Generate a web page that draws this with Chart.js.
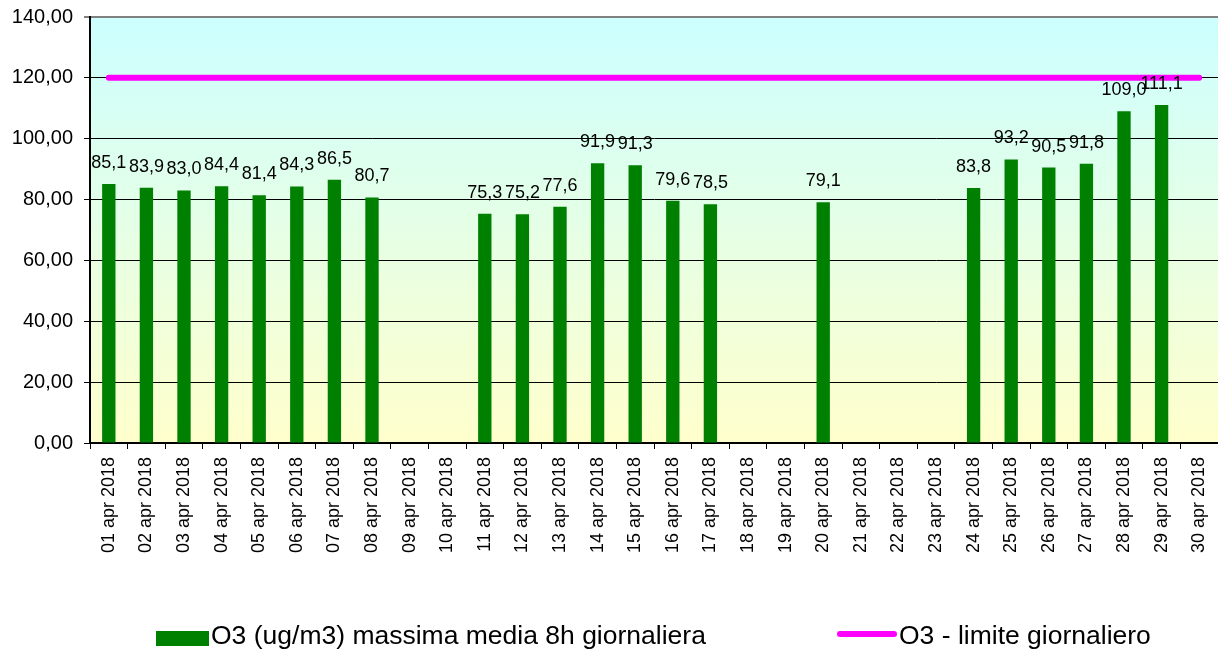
<!DOCTYPE html>
<html>
<head>
<meta charset="utf-8">
<script src="https://cdn.jsdelivr.net/npm/chart.js@4/dist/chart.umd.min.js"></script>
<style>
  html, body { margin: 0; padding: 0; background: #fff; }
  #wrap { width: 1218px; height: 652px; }
</style>
</head>
<body>
<div id="wrap"><canvas id="chart" width="1218" height="652"></canvas></div>
<script>
// Dati
const days = ['01 apr 2018', '02 apr 2018', '03 apr 2018', '04 apr 2018', '05 apr 2018',
    '06 apr 2018', '07 apr 2018', '08 apr 2018', '09 apr 2018', '10 apr 2018',
    '11 apr 2018', '12 apr 2018', '13 apr 2018', '14 apr 2018', '15 apr 2018',
    '16 apr 2018', '17 apr 2018', '18 apr 2018', '19 apr 2018', '20 apr 2018',
    '21 apr 2018', '22 apr 2018', '23 apr 2018', '24 apr 2018', '25 apr 2018',
    '26 apr 2018', '27 apr 2018', '28 apr 2018', '29 apr 2018', '30 apr 2018'];
const o3Max8h = [85.1, 83.9, 83.0, 84.4, 81.4, 84.3, 86.5, 80.7, null, null,
    75.3, 75.2, 77.6, 91.9, 91.3, 79.6, 78.5, null, null, 79.1,
    null, null, null, 83.8, 93.2, 90.5, 91.8, 109.0, 111.1, null];
const o3Limit = days.map(() => 120);
const yTicks = [0, 20, 40, 60, 80, 100, 120, 140];

const fmt = (v, d) => v.toFixed(d).replace('.', ',');

// Sfondo sfumato dell'area del grafico
const bgPlugin = {
    id: 'bgGradient',
    beforeDraw(chart) {
        const { ctx, chartArea: a } = chart;
        const g = ctx.createLinearGradient(0, a.top, 0, a.bottom);
        g.addColorStop(0, '#CCFFFF');
        g.addColorStop(1, '#FFFFCC');
        ctx.save();
        ctx.fillStyle = g;
        ctx.fillRect(a.left, a.top, a.right - a.left, a.bottom - a.top);
        ctx.restore();
    }
};

// Etichette dei valori sopra le barre
const valueLabels = {
    id: 'valueLabels',
    afterDatasetsDraw(chart) {
        const ctx = chart.ctx;
        const meta = chart.getDatasetMeta(1);
        ctx.save();
        ctx.font = '18px Arial, "Liberation Sans", sans-serif';
        ctx.fillStyle = '#000';
        ctx.textAlign = 'center';
        ctx.textBaseline = 'alphabetic';
        meta.data.forEach((bar, i) => {
            const v = o3Max8h[i];
            if (v == null) return;
            ctx.fillText(fmt(v, 1), bar.x, bar.y - 16);
        });
        ctx.restore();
    }
};

// Legenda in basso
const legendPlugin = {
    id: 'customLegend',
    afterDraw(chart) {
        const ctx = chart.ctx;
        const y = 637;
        ctx.save();
        ctx.font = '26.5px Arial, "Liberation Sans", sans-serif';
        ctx.textBaseline = 'middle';
        ctx.fillStyle = '#008000';
        ctx.fillRect(156, 631, 53, 15);
        ctx.fillStyle = '#000';
        ctx.fillText(chart.data.datasets[1].label, 211, y);
        ctx.strokeStyle = '#FF00FF';
        ctx.lineWidth = 6;
        ctx.lineCap = 'round';
        ctx.beginPath();
        ctx.moveTo(840, 634);
        ctx.lineTo(894, 634);
        ctx.stroke();
        ctx.fillText(chart.data.datasets[0].label, 899, y);
        ctx.restore();
    }
};

new Chart(document.getElementById('chart'), {
    data: {
        labels: days,
        datasets: [
            {
                type: 'line',
                label: 'O3 - limite giornaliero',
                data: o3Limit,
                borderColor: '#FF00FF',
                borderWidth: 6,
                borderCapStyle: 'round',
                pointRadius: 0,
                order: 0
            },
            {
                type: 'bar',
                label: 'O3 (ug/m3) massima media 8h giornaliera',
                data: o3Max8h,
                backgroundColor: '#008000',
                categoryPercentage: 1,
                barPercentage: 0.355,
                order: 1
            }
        ]
    },
    options: {
        responsive: false,
        animation: false,
        layout: { padding: { top: 17, right: 0, bottom: 0, left: 0 } },
        plugins: {
            legend: { display: false },
            tooltip: { enabled: false }
        },
        scales: {
            x: {
                offset: true,
                grid: { offset: true, drawOnChartArea: false, tickLength: 6, color: '#000' },
                border: { color: '#000', width: 2 },
                ticks: {
                    minRotation: 90, maxRotation: 90, autoSkip: false,
                    color: '#000', padding: 8,
                    font: { family: 'Arial, "Liberation Sans", sans-serif', size: 18 }
                },
                afterFit(scale) {
                    scale.height = 209;
                    scale.paddingLeft = 0;
                    scale.paddingRight = 0;
                }
            },
            y: {
                min: 0, max: 140,
                afterBuildTicks(scale) { scale.ticks = yTicks.map(v => ({ value: v })); },
                grid: {
                    tickLength: 6,
                    color: ctx => ctx.tick && ctx.tick.value === 140 ? '#808080' : '#000',
                    lineWidth: ctx => ctx.tick && ctx.tick.value === 140 ? 2 : 1
                },
                border: { color: '#000', width: 2 },
                ticks: {
                    color: '#000', padding: 11,
                    font: { family: 'Arial, "Liberation Sans", sans-serif', size: 20 },
                    callback: v => fmt(v, 2)
                },
                afterFit(scale) {
                    scale.width = 90;
                    scale.paddingTop = 0;
                }
            }
        }
    },
    plugins: [bgPlugin, valueLabels, legendPlugin]
});
</script>
</body>
</html>
